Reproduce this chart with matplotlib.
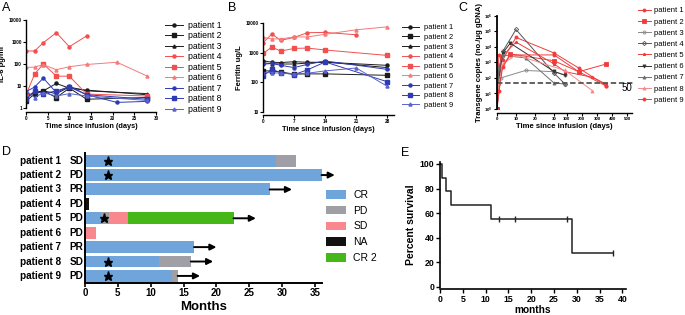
import matplotlib
matplotlib.use("Agg")
import matplotlib.pyplot as plt
import numpy as np
from matplotlib.patches import Patch

plt.rcParams["font.family"] = ["Liberation Sans", "DejaVu Sans"]
plt.rcParams["axes.linewidth"] = 1.0

W, H = 685, 315

# %% data -- panel A: IL-6 (pg/ml) per patient
il6_days = [
    [0, 2, 4, 7, 10, 14, 28],
    [0, 2, 4, 7, 10, 14, 28],
    [0, 2, 4, 7, 10, 14, 28],
    [0, 2, 4, 7, 10, 14],
    [0, 2, 4, 7, 10, 14, 28],
    [0, 2, 4, 7, 10, 14, 21, 28],
    [0, 2, 4, 7, 10, 14, 21, 28],
    [0, 2, 4, 7, 10, 14, 28],
    [0, 2, 4, 7, 10, 14, 28],
]
il6_vals = [
    [3.5, 5, 6, 13, 8, 6.5, 4],
    [2.0, 4.5, 6, 3, 8, 2.5, 3],
    [3, 5, 6, 4.5, 9, 6, 4.5],
    [390, 390, 930, 2650, 610, 1900],
    [4, 35, 100, 28, 28, 4.3, 3.5],
    [70, 72, 93, 55, 75, 95, 120, 28],
    [5.5, 9, 23, 5, 10, 4, 1.8, 2],
    [2.5, 6, 4.5, 6, 9, 4, 2.5],
    [6, 3, 5, 3.5, 4.5, 3.5, 2.2],
]

# panel B: ferritin (ug/L)
fer_days = [
    [0, 2, 4, 7, 10, 14, 28],
    [0, 2, 4, 7, 10, 14, 28],
    [0, 2, 4, 7, 10, 14, 28],
    [0, 2, 4, 7, 10, 14, 21],
    [0, 2, 4, 7, 10, 14, 28],
    [0, 2, 4, 7, 10, 14, 21, 28],
    [0, 2, 4, 7, 10, 14, 28],
    [0, 2, 4, 7, 10, 14, 28],
    [0, 2, 4, 7, 10, 14, 21, 28],
]
fer_vals = [
    [530, 470, 460, 490, 470, 470, 370],
    [240, 240, 220, 187, 190, 190, 170],
    [450, 420, 410, 410, 440, 480, 310],
    [2150, 4250, 2580, 3250, 4700, 4800, 4000],
    [930, 1540, 1120, 1380, 1420, 1220, 800],
    [3250, 2900, 2900, 3380, 3380, 4150, 5900, 7400],
    [400, 430, 370, 310, 400, 520, 270],
    [160, 270, 210, 180, 260, 480, 103],
    [210, 210, 200, 190, 200, 240, 300, 72],
]

# panel C: transgene copies (no./ug gDNA)
cart_days = [
    [0, 1, 3, 10, 30, 180, 360],
    [0, 1, 7, 30, 180, 360],
    [0, 2, 15, 30, 90],
    [0, 1, 3, 10, 30, 90],
    [0, 2, 10, 30, 90, 270, 360],
    [0, 1, 3, 7, 30, 90],
    [0, 1, 3, 15, 30, 90],
    [0, 1, 3, 10, 90, 270],
    [0, 1, 3, 7, 30, 180, 360],
]
cart_vals = [
    [1, 3000, 1500, 40000, 4000, 430, 32],
    [1, 200, 3500, 1260, 250, 780],
    [1, 100, 300, 250, 150],
    [1, 300, 5000, 130000, 200, 40],
    [1, 2000, 20000, 800, 250, 110, 40],
    [1, 80, 4000, 17000, 260, 150],
    [1, 500, 3000, 1900, 47, 40],
    [1, 50, 800, 3000, 300, 15],
    [1, 15, 500, 3000, 3000, 250, 30],
]
cart_threshold = 50

# panel D: swimmer plot (months)
patients = [f"patient {i}" for i in range(1, 10)]
best_resp = ["SD", "PD", "PR", "PD", "PD", "PD", "PR", "SD", "PD"]
seg_start = [[0, 29.1], [0], [0], [0], [0, 2.5, 3.6, 6.6], [0], [0], [0, 11.3], [0, 13.2]]
seg_end = [[29.1, 32.1], [36], [28.1], [0.6], [2.5, 3.6, 6.6, 22.6], [1.6], [16.6], [11.3, 16.1], [13.2, 14.1]]
seg_state = [["CR", "PD"], ["CR"], ["CR"], ["NA"], ["CR", "PD", "SD", "CR 2"], ["SD"], ["CR"], ["CR", "PD"], ["CR", "PD"]]
arrow_to = [None, 38.0, 31.5, None, 26.0, None, 20.0, 19.5, 17.5]
star_at = [3.5, 3.5, None, None, 2.9, None, None, 3.5, 3.5]
states = ["CR", "PD", "SD", "NA", "CR 2"]
state_colors = {"CR": "#6fa5da", "PD": "#a19fa6", "SD": "#f8878e", "NA": "#111111", "CR 2": "#45b817"}

# panel E: Kaplan-Meier
km_time = [0, 0.5, 1.3, 2.4, 11.2, 28.9, 38.0]
km_surv = [100, 88.9, 77.8, 66.7, 55.6, 27.8, 27.8]
cens_time = [12.9, 16.5, 27.9, 38.0]
cens_surv = [55.6, 55.6, 55.6, 27.8]

# styles shared by A/B
ab_colors = ["#1c1c1c"] * 3 + ["#f24f4f", "#f24f4f", "#f57a7a"] + ["#2f3bb5", "#2f3bb5", "#5a63cc"]
ab_markers = ["o", "s", "^"] * 3
c_colors = ["#f03c3c", "#f03c3c", "#8a8a8a", "#555555", "#f03c3c", "#333333", "#707070", "#f58a8a", "#f03c3c"]
c_markers = ["o", "s", "o", "D", "*", "v", "^", "^", "o"]
c_fill = ["full", "full", "none", "none", "full", "full", "full", "full", "full"]


def box(l, t, r, b):
    return [l / W, 1 - b / H, (r - l) / W, (b - t) / H]


def gp_style(ax, tick_fs):
    ax.spines[["top", "right"]].set_visible(False)
    ax.tick_params(direction="out", length=2, width=0.8, labelsize=tick_fs, pad=1)
    for lab in ax.get_xticklabels() + ax.get_yticklabels():
        lab.set_fontweight("bold")


fig = plt.figure(figsize=(W / 100, H / 100), dpi=100)

# %% A
axA = fig.add_axes(box(26, 20, 156, 108))
for i in range(9):
    axA.plot(il6_days[i], il6_vals[i], color=ab_colors[i], marker=ab_markers[i],
             ms=2.2, lw=0.7, label=patients[i])
axA.set_yscale("log")
axA.set_ylim(1, 10000)
axA.set_xlim(0, 30)
axA.set_xticks([0, 5, 10, 15, 20, 25, 30])
axA.set_yticks([1, 10, 100, 1000, 10000])
axA.set_yticklabels(["1", "10", "100", "1000", "10000"])
axA.minorticks_off()
axA.spines["bottom"].set_position(("outward", 3))
gp_style(axA, 3.3)
axA.set_ylabel("IL-6 pg/ml", fontsize=5.5, fontweight="bold", labelpad=2)
axA.set_xlabel("Time since infusion (days)", fontsize=5.3, fontweight="bold", labelpad=1)
axA.legend(loc="upper left", bbox_to_anchor=(165 / W, 1 - 21 / H), bbox_transform=fig.transFigure,
           frameon=False, fontsize=6.3, handlelength=2.0, handletextpad=0.6,
           labelspacing=0.17, borderpad=0, borderaxespad=0)
fig.text(2 / W, 1 - 2 / H, "A", fontsize=9, va="top", ha="left")

# %% B
axB = fig.add_axes(box(263, 23, 394, 111.7))
for i in range(9):
    axB.plot(fer_days[i], fer_vals[i], color=ab_colors[i], marker=ab_markers[i],
             ms=2.2, lw=0.7, label=patients[i])
axB.set_yscale("log")
axB.set_ylim(10, 10000)
axB.set_xlim(0, 29.5)
axB.set_xticks([0, 7, 14, 21, 28])
axB.set_yticks([10, 100, 1000, 10000])
axB.set_yticklabels(["10", "100", "1000", "10000"])
axB.minorticks_off()
axB.spines["bottom"].set_position(("outward", 2.5))
gp_style(axB, 3.3)
axB.set_ylabel("Ferritin ug/L", fontsize=5.5, fontweight="bold", labelpad=2)
axB.set_xlabel("Time since infusion (days)", fontsize=5.3, fontweight="bold", labelpad=1)
axB.legend(loc="upper left", bbox_to_anchor=(402 / W, 1 - 24 / H), bbox_transform=fig.transFigure,
           frameon=False, fontsize=5.4, handlelength=2.2, handletextpad=0.7,
           labelspacing=0.33, borderpad=0, borderaxespad=0)
fig.text(228 / W, 1 - 2 / H, "B", fontsize=9, va="top", ha="left")


# %% C  (broken x axis: linear 0-30 d, compressed afterwards)
def fwd(x):
    x = np.asarray(x, float)
    return np.where(x <= 30, x, 31 + (x - 30) * 0.08)


def inv(u):
    u = np.asarray(u, float)
    return np.where(u <= 30, u, np.where(u < 31, 30, 30 + (u - 31) / 0.08))


axC = fig.add_axes(box(497, 15.7, 632, 109))
axC.set_xscale("function", functions=(fwd, inv))
axC.set_yscale("log")
for i in range(9):
    axC.plot(cart_days[i], cart_vals[i], color=c_colors[i], marker=c_markers[i],
             fillstyle=c_fill[i], ms=2.2, lw=0.7, mew=0.6, label=patients[i])
axC.axhline(cart_threshold, color="#555555", lw=1.3, ls=(0, (3, 1.5)), xmax=1.02, clip_on=False)
axC.set_ylim(1, 1e6)
axC.set_xlim(0, 530)
axC.set_xticks([0, 10, 20, 30, 100, 200, 300, 400, 500])
axC.set_xticklabels(["0", "10", "20", "30", "100", "200", "300", "400", "500"])
axC.set_yticks([10.0 ** k for k in range(7)])
axC.minorticks_off()
axC.spines["bottom"].set_position(("outward", 3))
axC.spines["left"].set_linewidth(1.3)
gp_style(axC, 3.2)
axC.text(1.0, cart_threshold, "50", transform=axC.get_yaxis_transform(),
         fontsize=7, va="top", ha="right")
axC.set_ylabel("Transgene copies (no./\u03bcg gDNA)", fontsize=5.6, fontweight="bold", labelpad=1)
axC.set_xlabel("Time since infusion (days)", fontsize=5.6, fontweight="bold", labelpad=1)
axC.legend(loc="upper left", bbox_to_anchor=(638 / W, 1 - 7 / H), bbox_transform=fig.transFigure,
           frameon=False, fontsize=5.5, handlelength=1.7, handletextpad=0.4,
           labelspacing=0.5, borderpad=0, borderaxespad=0)
fig.text(458 / W, 1 - 2 / H, "C", fontsize=9, va="top", ha="left")

# %% D  swimmer plot
axD = fig.add_axes(box(85, 153.3, 321.6, 282.7))
for i in range(9):
    y = i + 1
    for s, e, st in zip(seg_start[i], seg_end[i], seg_state[i]):
        axD.barh(y, e - s, left=s, height=0.83, color=state_colors[st], lw=0)
    if arrow_to[i] is not None:
        axD.annotate("", xy=(arrow_to[i], y), xytext=(seg_end[i][-1], y),
                     arrowprops=dict(arrowstyle="-|>", lw=1.4, color="black",
                                     mutation_scale=9, shrinkA=0, shrinkB=0),
                     annotation_clip=False)
    if star_at[i] is not None:
        axD.plot(star_at[i], y, marker="*", color="black", ms=6.5, lw=0)
    axD.text(-0.101, y, patients[i], transform=axD.get_yaxis_transform(),
             ha="right", va="center", fontsize=7.2, fontweight="bold")
    axD.text(-0.036, y, best_resp[i], transform=axD.get_yaxis_transform(),
             ha="center", va="center", fontsize=7.2, fontweight="bold")
axD.set_xlim(0, 36)
axD.set_ylim(9.47, 0.49)
axD.set_xticks(range(0, 36, 5))
axD.set_yticks([])
axD.spines[["top", "right"]].set_visible(False)
axD.spines[["left", "bottom"]].set_linewidth(1.4)
axD.tick_params(axis="x", direction="out", length=3, width=1.2, labelsize=7, pad=1)
for lab in axD.get_xticklabels():
    lab.set_fontweight("bold")
axD.set_xlabel("Months", fontsize=9.5, fontweight="bold", labelpad=2)
handles = [Patch(facecolor=state_colors[s], edgecolor="none") for s in states]
fig.legend(handles, states, loc="upper left", bbox_to_anchor=(326 / W, 1 - 190 / H),
           frameon=False, fontsize=7.5, handlelength=1.9, handleheight=0.9,
           handletextpad=0.7, labelspacing=0.55, borderpad=0, borderaxespad=0)
fig.text(2 / W, 1 - 146 / H, "D", fontsize=9, va="top", ha="left")

# %% E  Kaplan-Meier
axE = fig.add_axes(box(440, 161.5, 626, 287))
axE.step(km_time, km_surv, where="post", color="#222222", lw=1.1)
axE.plot(cens_time, cens_surv, ls="none", marker="|", ms=4, mew=1.0, color="#222222")
axE.set_xlim(0, 40.8)
axE.set_ylim(0, 102)
axE.set_xticks(range(0, 41, 5))
axE.set_yticks(range(0, 101, 20))
axE.spines["bottom"].set_position(("outward", 1.5))
gp_style(axE, 6.3)
axE.tick_params(length=3, width=1.0)
axE.spines[["left", "bottom"]].set_linewidth(1.2)
axE.set_ylabel("Percent survival", fontsize=7.5, fontweight="bold", labelpad=3)
axE.set_xlabel("months", fontsize=7.3, fontweight="bold", labelpad=1)
fig.text(401 / W, 1 - 147 / H, "E", fontsize=9, va="top", ha="left")

fig.savefig("out.png", dpi=100)
